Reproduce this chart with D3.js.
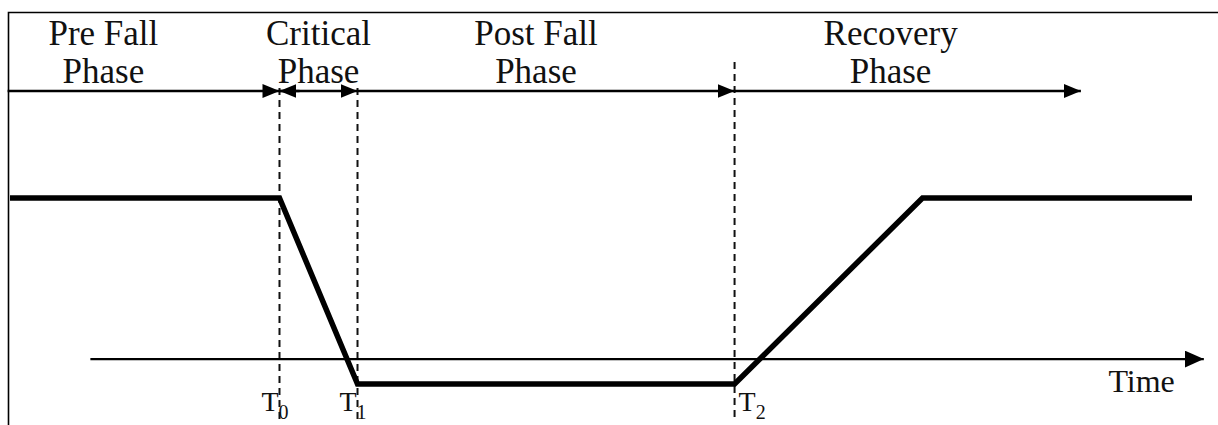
<!DOCTYPE html>
<html>
<head>
<meta charset="utf-8">
<script src="https://cdn.jsdelivr.net/npm/d3@7"></script>
<style>
  html, body { margin: 0; padding: 0; background: #fff; }
  text { font-family: "Liberation Serif", "Times New Roman", serif; fill: #111; }
</style>
</head>
<body>
<div id="chart"></div>
<script>
// DATA
// time runs from 0 to 100 (arbitrary units), level 1 = standing, 0 = on the ground
var signalTimes = [0, 22.8, 29.4, 61.3, 77.2, 100];
var signalLevels = [1, 1, 0, 0, 1, 1];
// marked instants
var markerNames = ["T", "T", "T"];
var markerSubs = ["0", "1", "2"];
var markerTimes = [22.8, 29.4, 61.3];
// phases along the top
var phaseNames = ["Pre Fall", "Critical", "Post Fall", "Recovery"];
var phaseLabelTimes = [7.9, 26.1, 44.5, 74.5];
var phaseStarts = [-0.2, 22.8, 29.4, 61.3];
var phaseEnds = [22.8, 29.4, 61.3, 90.6];
// time axis extent
var axisStart = 6.8;
var axisEnd = 101.0;
var axisLevel = 0.134;

// SIZES
var svgWidth = 1218;
var svgHeight = 425;

var svg = d3.select("#chart")
    .append("svg")
    .attr("width", svgWidth)
    .attr("height", svgHeight);

// scales
var x = d3.scaleLinear().domain([0, 100]).range([10, 1192]);
var y = d3.scaleLinear().domain([0, 1]).range([384, 198]);

// arrow markers
var defs = svg.append("defs");
function addHead(id, w, h) {
    defs.append("marker")
        .attr("id", id)
        .attr("viewBox", "0 0 " + w + " " + h)
        .attr("refX", w)
        .attr("refY", h / 2)
        .attr("markerWidth", w)
        .attr("markerHeight", h)
        .attr("markerUnits", "userSpaceOnUse")
        .attr("orient", "auto")
        .append("path")
        .attr("d", "M0,0 L" + w + "," + (h / 2) + " L0," + h + " Z")
        .attr("fill", "#000");
}
addHead("head", 17, 14);
addHead("bighead", 19, 17);

// frame (only top and left edges show)
svg.append("path")
    .attr("d", "M8.5," + svgHeight + " L8.5,12.5 L" + svgWidth + ",12.5")
    .attr("fill", "none")
    .attr("stroke", "#000")
    .attr("stroke-width", 1.6);

// dashed marker lines
svg.selectAll(".marker-line")
    .data(markerTimes)
    .enter()
    .append("line")
    .attr("class", "marker-line")
    .attr("x1", d => x(d))
    .attr("x2", d => x(d))
    .attr("y1", (d, i) => i === 2 ? 62 : 88)
    .attr("y2", 422)
    .attr("stroke", "#111")
    .attr("stroke-width", 2)
    .attr("stroke-dasharray", "7,5");

// phase arrows on the top row
var phaseY = 91;
svg.selectAll(".phase-arrow")
    .data(phaseStarts)
    .enter()
    .append("line")
    .attr("class", "phase-arrow")
    .attr("x1", d => x(d))
    .attr("x2", (d, i) => x(phaseEnds[i]))
    .attr("y1", phaseY)
    .attr("y2", phaseY)
    .attr("stroke", "#000")
    .attr("stroke-width", 2.4)
    .attr("marker-end", "url(#head)");

// the critical phase also points back to T0
svg.append("line")
    .attr("x1", x(phaseStarts[1]) + 20)
    .attr("x2", x(phaseStarts[1]))
    .attr("y1", phaseY)
    .attr("y2", phaseY)
    .attr("stroke", "#000")
    .attr("stroke-width", 2.4)
    .attr("marker-end", "url(#head)");

// phase labels
var labels = svg.selectAll(".phase-label")
    .data(phaseNames)
    .enter()
    .append("text")
    .attr("class", "phase-label")
    .attr("text-anchor", "middle")
    .attr("font-size", 35);
labels.append("tspan")
    .attr("x", (d, i) => x(phaseLabelTimes[i]))
    .attr("y", 45)
    .text(d => d);
labels.append("tspan")
    .attr("x", (d, i) => x(phaseLabelTimes[i]))
    .attr("y", 83)
    .text("Phase");

// time axis
svg.append("line")
    .attr("x1", x(axisStart))
    .attr("x2", x(axisEnd))
    .attr("y1", y(axisLevel))
    .attr("y2", y(axisLevel))
    .attr("stroke", "#000")
    .attr("stroke-width", 2.4)
    .attr("marker-end", "url(#bighead)");

svg.append("text")
    .attr("x", x(axisEnd) - 29)
    .attr("y", 392)
    .attr("text-anchor", "end")
    .attr("font-size", 32)
    .text("Time");

// signal line
var line = d3.line()
    .x(d => x(d[0]))
    .y(d => y(d[1]));

svg.append("path")
    .datum(signalTimes.map((t, i) => [t, signalLevels[i]]))
    .attr("d", line)
    .attr("fill", "none")
    .attr("stroke", "#000")
    .attr("stroke-width", 5.5)
    .attr("stroke-linejoin", "miter");

// marker labels
var marks = svg.selectAll(".mark-label")
    .data(markerTimes)
    .enter()
    .append("text")
    .attr("class", "mark-label")
    .attr("x", (d, i) => i === 2 ? x(d) + 4 : x(d) - 18)
    .attr("y", 411)
    .attr("font-size", 28);
marks.append("tspan")
    .text((d, i) => markerNames[i]);
marks.append("tspan")
    .attr("font-size", 20)
    .attr("dy", 8)
    .text((d, i) => markerSubs[i]);
</script>
</body>
</html>
